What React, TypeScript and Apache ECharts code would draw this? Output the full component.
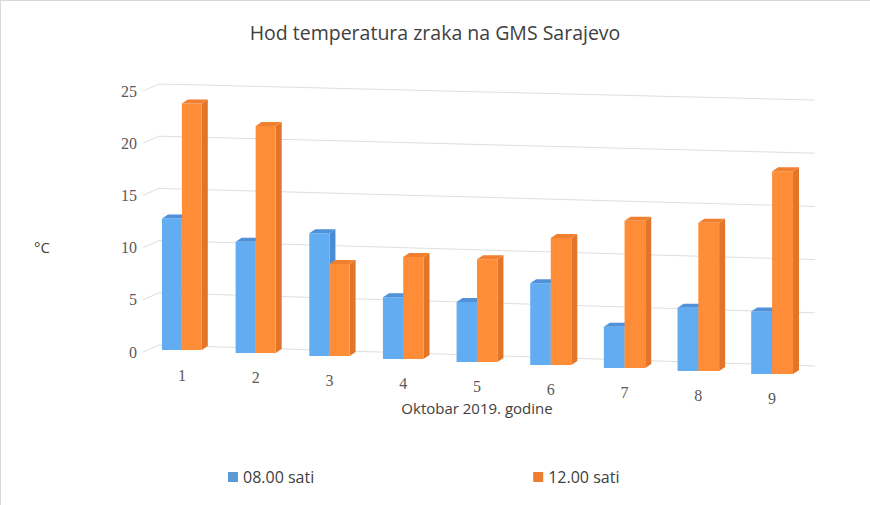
import React, { useEffect, useRef } from "react";
import * as echarts from "echarts";

const TITLE = "Hod temperatura zraka na GMS Sarajevo";
const CATEGORIES = ["1", "2", "3", "4", "5", "6", "7", "8", "9"];
const SERIES_NAMES = ["08.00 sati", "12.00 sati"];
const TEMP_08 = [12.6, 10.6, 11.6, 5.8, 5.6, 7.6, 3.8, 5.8, 5.7];
const TEMP_12 = [23.6, 21.6, 8.7, 9.6, 9.6, 11.8, 13.6, 13.6, 18.5];
const Y_TICKS = [0, 5, 10, 15, 20, 25];
const Y_MAX = 25;
const Y_UNIT = "°C";
const X_NAME = "Oktobar 2019. godine";

const PALETTE = [
  { legend: "#5B9BD5", front: "#62ADF2", side: "#4A8DD6", top: "#4F92D9" },
  { legend: "#ED7D31", front: "#FF8C37", side: "#E3752A", top: "#F0802F" },
];

const SANS = "'Open Sans', 'Liberation Sans', sans-serif";
const SERIF = "'Liberation Serif', 'DejaVu Serif', serif";

// perspective styling
const DEPTH_X = 6;
const DEPTH_Y = 4;
const SLOPE = 3; // px per category, floor descending to the right
const GROW = 0.0063;

function makeBarRenderer(sIdx: number) {
  return (params: any, api: any) => {
    const i = api.value(0);
    const v = api.value(1);
    const band = api.size([1, 0])[0];
    const c0 = api.coord([i, 0]);
    const c1 = api.coord([i, 1]);
    const unit = c0[1] - c1[1];
    const k = 1 + i * GROW;
    const w = band * 0.27 * k;
    const base = c0[1] - 2 + i * SLOPE;
    const h = v * unit * k;
    const x = sIdx === 0 ? c0[0] - w : c0[0];
    const top = base - h;
    const col = PALETTE[sIdx];
    return {
      type: "group",
      children: [
        {
          type: "polygon",
          shape: {
            points: [
              [x + w, top],
              [x + w + DEPTH_X, top - DEPTH_Y],
              [x + w + DEPTH_X, base - DEPTH_Y],
              [x + w, base],
            ],
          },
          style: { fill: col.side },
        },
        {
          type: "rect",
          shape: { x, y: top, width: w, height: h },
          style: { fill: col.front },
        },
        {
          type: "polygon",
          shape: {
            points: [
              [x, top],
              [x + DEPTH_X, top - DEPTH_Y],
              [x + w + DEPTH_X, top - DEPTH_Y],
              [x + w, top],
            ],
          },
          style: { fill: col.top },
        },
      ],
    };
  };
}

function renderGridLine(params: any, api: any) {
  const v = api.value(1);
  const cs = params.coordSys;
  const y = api.coord([0, v])[1];
  const right = cs.x + cs.width + 6;
  return {
    type: "polyline",
    shape: {
      points: [
        [cs.x - 2, y],
        [cs.x + 14, y - 7],
        [right, y + 14 - (5 * v) / Y_MAX],
      ],
    },
    style: { stroke: "#dedede", lineWidth: 1, fill: "none" },
  };
}

export default function App() {
  const ref = useRef<HTMLDivElement>(null);
  useEffect(() => {
    document.body.style.margin = "0";
    if (!ref.current) return;
    const chart = echarts.init(ref.current, undefined, { renderer: "svg" });
    const rich: any = {};
    CATEGORIES.forEach((_, i) => {
      rich["l" + i] = {
        fontFamily: SERIF,
        fontSize: 16,
        color: "#595959",
        padding: [i * 2.9, 0, 0, 0],
      };
    });
    chart.setOption({
      animation: false,
      backgroundColor: "#ffffff",
      title: {
        text: TITLE,
        left: "center",
        top: 17,
        textStyle: { fontFamily: SANS, fontSize: 19.5, fontWeight: "normal", color: "#404040" },
      },
      legend: {
        left: 223,
        top: 464,
        itemWidth: 10,
        itemHeight: 10,
        itemGap: 219,
        icon: "rect",
        textStyle: { fontFamily: SANS, fontSize: 16, color: "#404040" },
        data: SERIES_NAMES,
      },
      grid: { left: 145, right: 61, top: 91, bottom: 153 },
      xAxis: {
        type: "category",
        data: CATEGORIES,
        axisLine: { show: false },
        axisTick: { show: false },
        axisLabel: {
          margin: 15,
          formatter: (val: string, idx: number) => `{l${idx}|${val}}`,
          rich,
        },
        name: X_NAME,
        nameLocation: "middle",
        nameGap: 48,
        nameMoveOverlap: false,
        nameTextStyle: { fontFamily: SANS, fontSize: 15, color: "#404040" },
      },
      yAxis: {
        type: "value",
        min: 0,
        max: Y_MAX,
        interval: 5,
        axisLine: { show: false },
        axisTick: { show: false },
        splitLine: { show: false },
        axisLabel: { fontFamily: SERIF, fontSize: 16, color: "#595959", margin: 8 },
      },
      graphic: [
        { type: "line", shape: { x1: 0, y1: 0.5, x2: 870, y2: 0.5 }, style: { stroke: "#d9d9d9", lineWidth: 1 } },
        { type: "line", shape: { x1: 0.5, y1: 0, x2: 0.5, y2: 505 }, style: { stroke: "#d9d9d9", lineWidth: 1 } },
        {
          type: "text",
          left: 34,
          top: 239,
          style: { text: Y_UNIT, font: `15px ${SANS}`, fill: "#404040" },
        },
      ],
      series: [
        {
          type: "custom",
          name: "grid",
          silent: true,
          z: 1,
          clip: false,
          renderItem: renderGridLine,
          data: Y_TICKS.map((t) => [0, t]),
          encode: { x: 0, y: 1 },
        },
        {
          type: "custom",
          name: SERIES_NAMES[0],
          z: 2,
          clip: false,
          itemStyle: { color: PALETTE[0].legend },
          renderItem: makeBarRenderer(0),
          data: TEMP_08.map((v, i) => [i, v]),
          encode: { x: 0, y: 1 },
        },
        {
          type: "custom",
          name: SERIES_NAMES[1],
          z: 3,
          clip: false,
          itemStyle: { color: PALETTE[1].legend },
          renderItem: makeBarRenderer(1),
          data: TEMP_12.map((v, i) => [i, v]),
          encode: { x: 0, y: 1 },
        },
      ],
    });
    return () => chart.dispose();
  }, []);
  return <div ref={ref} style={{ width: 870, height: 505 }} />;
}
